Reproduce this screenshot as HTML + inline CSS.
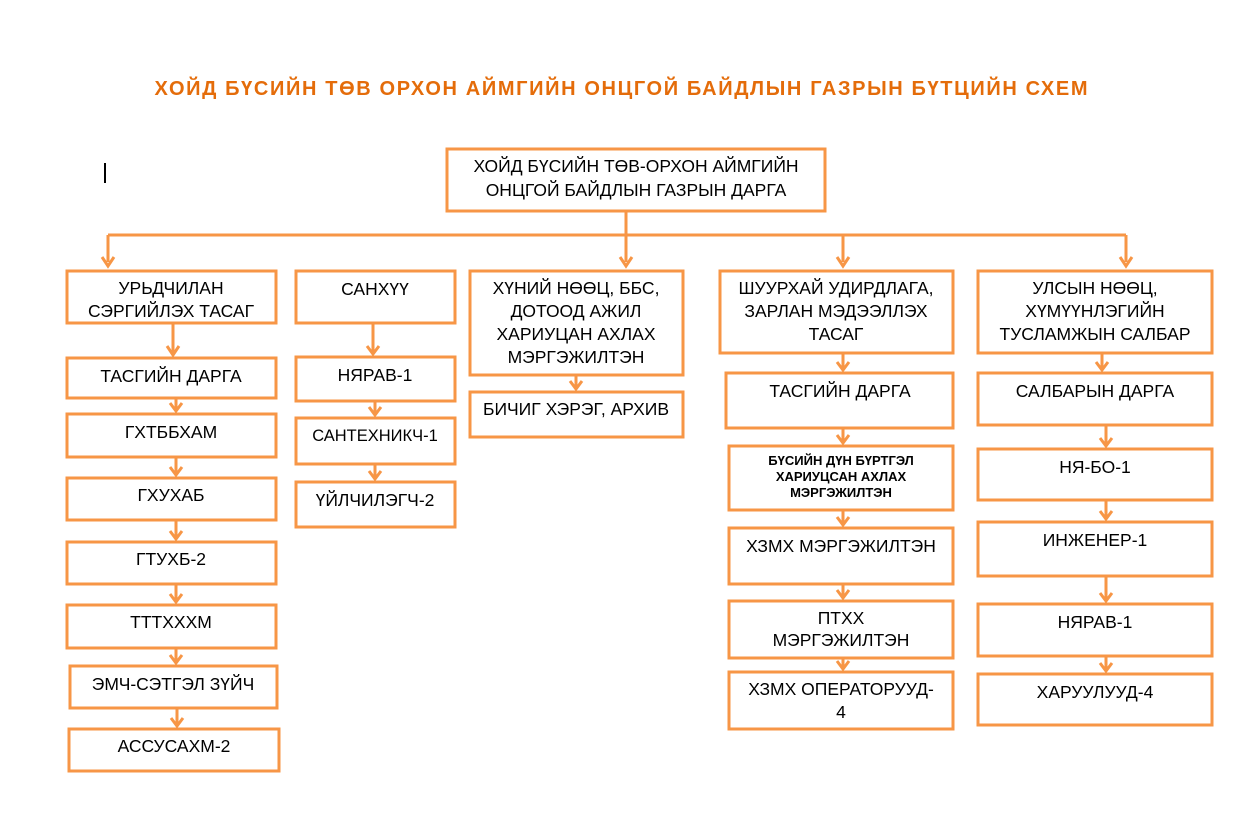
<!DOCTYPE html>
<html><head><meta charset="utf-8"><style>
html,body{margin:0;padding:0;background:#fff;}
svg{display:block;}
text{font-family:"Liberation Sans",Arial,sans-serif;font-size:17.5px;fill:#000;text-anchor:middle;}
.b{fill:#fff;stroke:#f79646;stroke-width:3;}
.l{stroke:#f79646;stroke-width:3;fill:none;}
</style></head><body>
<svg width="1250" height="823" viewBox="0 0 1250 823">
<text x="621" y="95" textLength="933" lengthAdjust="spacing" style="font-size:20px;font-weight:bold;fill:#e46c0a">ХОЙД БҮСИЙН ТӨВ ОРХОН АЙМГИЙН ОНЦГОЙ БАЙДЛЫН ГАЗРЫН БҮТЦИЙН СХЕМ</text>
<rect x="104" y="163" width="2" height="20" fill="#000"/>

<path class="l" d="M626 211V235M108 235H1126M108 235V262M626 235V262M843 235V262M1126 235V262"/>

<rect class="b" x="447" y="149" width="378" height="62"/>
<text x="636" y="172">ХОЙД БҮСИЙН ТӨВ-ОРХОН  АЙМГИЙН</text>
<text x="636" y="196">ОНЦГОЙ БАЙДЛЫН ГАЗРЫН ДАРГА</text>

<rect class="b" x="67" y="271" width="209" height="52"/>
<text x="171" y="294">УРЬДЧИЛАН</text><text x="171" y="317">СЭРГИЙЛЭХ ТАСАГ</text>
<rect class="b" x="67" y="358" width="209" height="40"/><text x="171" y="382">ТАСГИЙН ДАРГА</text>
<rect class="b" x="67" y="414" width="209" height="43"/><text x="171" y="438">ГХТББХАМ</text>
<rect class="b" x="67" y="478" width="209" height="42"/><text x="171" y="501">ГХУХАБ</text>
<rect class="b" x="67" y="542" width="209" height="42"/><text x="171" y="565">ГТУХБ-2</text>
<rect class="b" x="67" y="605" width="209" height="43"/><text x="171" y="628">ТТТХХХМ</text>
<rect class="b" x="70" y="666" width="207" height="42"/><text x="173" y="690">ЭМЧ-СЭТГЭЛ ЗҮЙЧ</text>
<rect class="b" x="69" y="729" width="210" height="42"/><text x="174" y="752">АССУСАХМ-2</text>

<rect class="b" x="296" y="271" width="159" height="52"/><text x="375" y="295">САНХҮҮ</text>
<rect class="b" x="296" y="357" width="159" height="44"/><text x="375" y="381">НЯРАВ-1</text>
<rect class="b" x="296" y="418" width="159" height="46"/><text x="375" y="441" style="font-size:16.5px">САНТЕХНИКЧ-1</text>
<rect class="b" x="296" y="482" width="159" height="45"/><text x="375" y="506">ҮЙЛЧИЛЭГЧ-2</text>

<rect class="b" x="470" y="271" width="213" height="104"/>
<text x="576" y="294">ХҮНИЙ НӨӨЦ, ББС,</text><text x="576" y="317">ДОТООД АЖИЛ</text><text x="576" y="340">ХАРИУЦАН АХЛАХ</text><text x="576" y="363">МЭРГЭЖИЛТЭН</text>
<rect class="b" x="470" y="392" width="213" height="45"/><text x="576" y="415">БИЧИГ ХЭРЭГ, АРХИВ</text>

<rect class="b" x="720" y="271" width="233" height="82"/>
<text x="836" y="294">ШУУРХАЙ УДИРДЛАГА,</text><text x="836" y="317">ЗАРЛАН МЭДЭЭЛЛЭХ</text><text x="836" y="340">ТАСАГ</text>
<rect class="b" x="726" y="373" width="227" height="55"/><text x="840" y="397">ТАСГИЙН ДАРГА</text>
<rect class="b" x="729" y="446" width="224" height="64"/>
<text x="841" y="465" style="font-size:13px;font-weight:bold">БҮСИЙН ДҮН БҮРТГЭЛ</text><text x="841" y="481" style="font-size:13px;font-weight:bold">ХАРИУЦСАН АХЛАХ</text><text x="841" y="497" style="font-size:13px;font-weight:bold">МЭРГЭЖИЛТЭН</text>
<rect class="b" x="729" y="528" width="224" height="56"/><text x="841" y="552">ХЗМХ МЭРГЭЖИЛТЭН</text>
<rect class="b" x="729" y="601" width="224" height="57"/><text x="841" y="624">ПТХХ</text><text x="841" y="646">МЭРГЭЖИЛТЭН</text>
<rect class="b" x="729" y="672" width="224" height="57"/><text x="841" y="695">ХЗМХ ОПЕРАТОРУУД-</text><text x="841" y="718">4</text>

<rect class="b" x="978" y="271" width="234" height="82"/>
<text x="1095" y="294">УЛСЫН НӨӨЦ,</text><text x="1095" y="317">ХҮМҮҮНЛЭГИЙН</text><text x="1095" y="340">ТУСЛАМЖЫН САЛБАР</text>
<rect class="b" x="978" y="373" width="234" height="52"/><text x="1095" y="397">САЛБАРЫН ДАРГА</text>
<rect class="b" x="978" y="449" width="234" height="51"/><text x="1095" y="473">НЯ-БО-1</text>
<rect class="b" x="978" y="522" width="234" height="54"/><text x="1095" y="546">ИНЖЕНЕР-1</text>
<rect class="b" x="978" y="604" width="234" height="52"/><text x="1095" y="628">НЯРАВ-1</text>
<rect class="b" x="978" y="674" width="234" height="51"/><text x="1095" y="698">ХАРУУЛУУД-4</text>

<g class="l">
<path d="M102 257L108 266L114 257M620 257L626 266L632 257M837 257L843 266L849 257M1120 257L1126 266L1132 257"/>
<path d="M173 323V355M167 346L173 355L179 346"/>
<path d="M176 398V411M170 403L176 411L182 403"/>
<path d="M176 457V475M170 467L176 475L182 467"/>
<path d="M176 520V539M170 531L176 539L182 531"/>
<path d="M176 584V602M170 594L176 602L182 594"/>
<path d="M176 648V663M170 655L176 663L182 655"/>
<path d="M177 708V726M171 718L177 726L183 718"/>
<path d="M373 323V354M367 346L373 354L379 346"/>
<path d="M375 401V415M369 407L375 415L381 407"/>
<path d="M375 464V479M369 471L375 479L381 471"/>
<path d="M576 375V389M570 381L576 389L582 381"/>
<path d="M843 353V370M837 362L843 370L849 362"/>
<path d="M843 428V443M837 435L843 443L849 435"/>
<path d="M843 510V525M837 517L843 525L849 517"/>
<path d="M843 584V598M837 590L843 598L849 590"/>
<path d="M843 658V669M837 661L843 669L849 661"/>
<path d="M1102 353V370M1096 362L1102 370L1108 362"/>
<path d="M1106 425V446M1100 438L1106 446L1112 438"/>
<path d="M1106 500V519M1100 511L1106 519L1112 511"/>
<path d="M1106 576V601M1100 593L1106 601L1112 593"/>
<path d="M1106 656V671M1100 663L1106 671L1112 663"/>
</g>
</svg>
</body></html>
